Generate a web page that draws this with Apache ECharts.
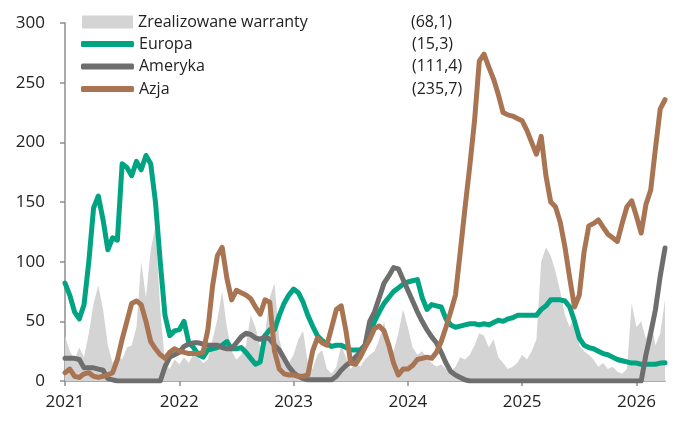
<!DOCTYPE html>
<html>
<head>
<meta charset="utf-8">
<script src="https://cdn.jsdelivr.net/npm/echarts@6/dist/echarts.min.js"></script>
<style>
  html, body { margin: 0; padding: 0; background: #fff; }
  #chart { width: 676px; height: 421px; }
</style>
</head>
<body>
<div id="chart"></div>
<script>
// daty co pol miesiaca, od 2021-01-01 do 2026-04-01
var dates = []
for (var y = 2021; y <= 2026; y++) {
  for (var m = 1; m <= 12; m++) {
    if (y === 2026 && m > 4) break
    var mm = (m < 10 ? '0' : '') + m
    dates.push(y + '-' + mm + '-01')
    if (y === 2026 && m === 4) break
    dates.push(y + '-' + mm + '-16')
  }
}

var names = ['Zrealizowane warranty', 'Europa', 'Ameryka', 'Azja']
var legendValues = ['(68,1)', '(15,3)', '(111,4)', '(235,7)']
var colors = ['#d4d4d4', '#00a482', '#6e6e6e', '#a87452']

var warranty = [38, 25, 18, 28, 20, 40, 65, 80, 60, 30, 15, 22, 18, 28, 30, 45, 100, 70, 110, 130,
  60, 15, 10, 18, 14, 20, 15, 23, 20, 15, 18, 35, 52, 75, 45, 25, 18, 22, 30, 55,
  45, 28, 40, 70, 82, 35, 20, 15, 22, 35, 42, 15, 10, 22, 26, 10, 6, 12, 30, 20,
  10, 15, 12, 18, 22, 25, 35, 50, 30, 25, 40, 60, 45, 28, 22, 25, 20, 15, 12, 14,
  10, 8, 12, 20, 18, 22, 30, 40, 38, 28, 35, 20, 15, 10, 12, 15, 22, 18, 25, 35,
  100, 112, 105, 92, 75, 55, 45, 55, 30, 25, 22, 18, 12, 15, 10, 12, 8, 6, 10, 65,
  45, 50, 35, 50, 30, 40, 68.1]

var europa = [82, 72, 58, 52, 64, 100, 145, 155, 135, 110, 120, 118, 182, 179, 172, 184, 177, 189, 182, 150,
  100, 55, 38, 42, 43, 50, 32, 28, 22, 20, 26, 27, 28, 30, 33, 27, 27, 28, 24, 19,
  14, 16, 38, 43, 43, 55, 65, 72, 77, 74, 66, 55, 46, 38, 34, 31, 29, 30, 30, 28,
  26, 26, 26, 30, 37, 50, 58, 65, 70, 75, 78, 81, 83, 84, 85, 70, 60, 64, 63, 62,
  52, 47, 45, 46, 47, 48, 48, 47, 48, 47, 49, 51, 50, 52, 53, 55, 55, 55, 55, 55,
  60, 63, 68, 68, 68, 67, 62, 50, 36, 30, 28, 27, 25, 23, 22, 20, 18, 17, 16, 15,
  15, 14, 14, 14, 14, 15, 15.3]

var ameryka = [19, 19, 19, 18, 11, 11, 11, 10, 9, 2, 1, 0, 0, 0, 0, 0, 0, 0, 0, 0,
  0, 12, 20, 22, 24, 29, 31, 32, 32, 31, 30, 30, 30, 28, 27, 27, 32, 37, 40, 39,
  36, 35, 37, 35, 30, 26, 19, 12, 7, 4, 2, 1, 1, 1, 1, 1, 1, 4, 9, 13,
  16, 20, 24, 30, 50, 58, 70, 82, 88, 95, 94, 85, 76, 67, 58, 50, 43, 37, 32, 24,
  15, 8, 5, 3, 1, 0, 0, 0, 0, 0, 0, 0, 0, 0, 0, 0, 0, 0, 0, 0,
  0, 0, 0, 0, 0, 0, 0, 0, 0, 0, 0, 0, 0, 0, 0, 0, 0, 0, 0, 0,
  0, 0, 22, 40, 60, 88, 111.4]

var azja = [7, 10, 4, 3, 6, 7, 4, 3, 4, 5, 7, 18, 35, 50, 65, 67, 64, 50, 33, 27,
  22, 19, 24, 27, 25, 24, 23, 23, 23, 24, 43, 80, 105, 112, 86, 68, 76, 74, 72, 69,
  62, 56, 68, 66, 25, 10, 6, 5, 5, 4, 4, 5, 25, 36, 32, 30, 45, 60, 63, 42,
  15, 14, 20, 28, 35, 44, 46, 42, 30, 15, 5, 10, 10, 13, 18, 19, 20, 19, 24, 33,
  45, 58, 72, 108, 145, 180, 218, 268, 274, 263, 253, 240, 225, 223, 222, 220, 218, 210, 200, 190,
  205, 172, 150, 146, 133, 112, 86, 62, 72, 108, 130, 132, 135, 129, 123, 120, 117, 132, 146, 151,
  138, 124, 148, 160, 195, 228, 235.7]

var textColor = '#222'
var axisColor = '#8e8e8e'
var font = 'Open Sans'

function isYear(idx, value) {
  return value.slice(5) === '01-01'
}

function legendFmt(name) {
  var i = names.indexOf(name)
  return '{n|' + name + '}{v|' + legendValues[i] + '}'
}

var legendText = {
  color: textColor,
  fontFamily: font,
  fontSize: 16,
  lineHeight: 22,
  rich: {
    n: { width: 273, fontSize: 16, fontFamily: font, color: textColor },
    v: { fontSize: 16, fontFamily: font, color: textColor }
  }
}

function lineSeries(i, data) {
  return {
    name: names[i],
    type: 'line',
    data: data,
    showSymbol: false,
    symbol: 'none',
    itemStyle: { color: colors[i] },
    lineStyle: { color: colors[i], width: 5, cap: 'round', join: 'round' },
    z: 2 + i
  }
}

var chart = echarts.init(document.getElementById('chart'))
chart.setOption({
  animation: false,
  grid: { left: 65, right: 11, top: 23, bottom: 40 },
  legend: [{
    data: [{ name: names[0], icon: 'rect' }],
    left: 77, top: 6,
    itemWidth: 51, itemHeight: 13,
    selectedMode: false,
    formatter: legendFmt,
    textStyle: legendText
  }, {
    data: [names[1], names[2], names[3]],
    orient: 'vertical',
    icon: 'roundRect',
    left: 76, top: 28,
    itemWidth: 53, itemHeight: 6,
    itemGap: 0.5,
    selectedMode: false,
    formatter: legendFmt,
    textStyle: legendText
  }],
  xAxis: {
    type: 'category',
    data: dates,
    boundaryGap: false,
    axisLine: { lineStyle: { color: axisColor, width: 1.5 } },
    axisTick: { interval: isYear, length: 5, lineStyle: { color: axisColor, width: 1.5 } },
    axisLabel: {
      interval: isYear,
      margin: 13,
      color: textColor,
      fontFamily: font,
      fontSize: 17,
      formatter: function (v) { return v.slice(0, 4) }
    },
    splitLine: { show: false }
  },
  yAxis: {
    type: 'value',
    min: 0, max: 300, interval: 50,
    axisLine: { show: true, lineStyle: { color: axisColor, width: 1.5 } },
    axisTick: { show: true, length: 5, lineStyle: { color: axisColor, width: 1.5 } },
    axisLabel: { margin: 20, color: textColor, fontFamily: font, fontSize: 17 },
    splitLine: { show: false }
  },
  series: [{
    name: names[0],
    type: 'line',
    data: warranty,
    showSymbol: false,
    symbol: 'none',
    itemStyle: { color: colors[0] },
    lineStyle: { width: 0 },
    areaStyle: { color: colors[0], opacity: 1 },
    z: 1
  },
  lineSeries(1, europa),
  lineSeries(2, ameryka),
  lineSeries(3, azja)]
})
</script>
</body>
</html>
